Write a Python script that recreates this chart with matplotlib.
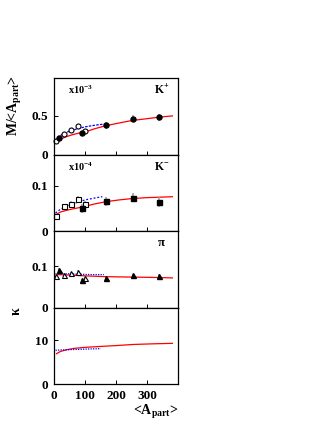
import matplotlib
matplotlib.use("Agg")
import matplotlib.pyplot as plt
import numpy as np

plt.rcParams["font.family"] = ["Liberation Serif", "DejaVu Serif"]
plt.rcParams["font.weight"] = "bold"
plt.rcParams["mathtext.fontset"] = "custom"
plt.rcParams["mathtext.rm"] = "Liberation Serif:bold"
plt.rcParams["mathtext.it"] = "Liberation Serif:italic:bold"
plt.rcParams["mathtext.bf"] = "Liberation Serif:bold"
plt.rcParams["mathtext.default"] = "rm"

# K+ (x10^-3)
kp_open_x = [6, 32, 54, 78, 101]
kp_open_y = [0.178, 0.267, 0.318, 0.368, 0.305]
kp_open_err = [0.02, 0.02, 0.02, 0.025, 0.02]
kp_fill_x = [16, 89, 167, 252, 337]
kp_fill_y = [0.207, 0.275, 0.377, 0.457, 0.479]
kp_fill_err = [0.02, 0.03, 0.045, 0.045, 0.045]
kp_red_x = [8, 15, 25, 40, 60, 80, 100, 130, 167, 210, 250, 300, 337, 380]
kp_red_y = [0.15, 0.18, 0.205, 0.23, 0.255, 0.275, 0.29, 0.33, 0.37, 0.405, 0.436, 0.46, 0.479, 0.495]
kp_blue_x = [3, 15, 30, 50, 75, 100, 130, 160]
kp_blue_y = [0.18, 0.23, 0.265, 0.30, 0.33, 0.355, 0.375, 0.39]

# K- (x10^-4)
km_open_x = [6, 32, 53, 78, 98]
km_open_y = [0.033, 0.055, 0.060, 0.071, 0.060]
km_open_err = [0.008, 0.006, 0.006, 0.007, 0.006]
km_fill_x = [89, 167, 252, 337]
km_fill_y = [0.050, 0.066, 0.074, 0.065]
km_fill_err = [0.009, 0.01, 0.01, 0.011]
km_red_x = [8, 20, 40, 60, 89, 130, 167, 210, 252, 300, 380]
km_red_y = [0.037, 0.042, 0.046, 0.049, 0.053, 0.060, 0.065, 0.069, 0.072, 0.074, 0.076]
km_blue_x = [5, 20, 40, 60, 80, 100, 130, 155]
km_blue_y = [0.040, 0.048, 0.055, 0.060, 0.065, 0.069, 0.073, 0.076]

# pi
pi_open_x = [6, 32, 54, 78, 101]
pi_open_y = [0.077, 0.079, 0.083, 0.087, 0.073]
pi_open_err = [0.006, 0.004, 0.004, 0.005, 0.004]
pi_fill_x = [16, 89, 167, 252, 337]
pi_fill_y = [0.090, 0.066, 0.071, 0.078, 0.077]
pi_fill_err = [0.006, 0.004, 0.004, 0.004, 0.004]
pi_red_x = [8, 50, 100, 167, 250, 337, 380]
pi_red_y = [0.080, 0.079, 0.077, 0.075, 0.074, 0.073, 0.072]
pi_blue_x = [5, 40, 80, 120, 160]
pi_blue_y = [0.082, 0.082, 0.081, 0.080, 0.080]

# kappa
ka_red_x = [8, 20, 40, 62, 100, 147, 200, 254, 320, 380]
ka_red_y = [6.9, 7.4, 7.8, 8.1, 8.35, 8.55, 8.75, 9.0, 9.15, 9.25]
ka_blue_x = [5, 40, 80, 120, 150]
ka_blue_y = [7.7, 7.8, 7.9, 8.0, 8.05]

W, H = 327, 423
fig = plt.figure(figsize=(W / 100, H / 100), dpi=100)

left, right = 54, 178
top, bottom = 78, 384.3
ph = (bottom - top) / 4


def panel(i):
    y0 = top + i * ph
    ax = fig.add_axes([left / W, 1 - (y0 + ph) / H, (right - left) / W, ph / H])
    ax.set_xlim(0, 398)
    ax.tick_params(direction="in", length=3, width=0.7, labelsize=9.5, pad=4)
    ax.set_xticks([0, 100, 200, 300])
    for s in ax.spines.values():
        s.set_linewidth(0.9)
        s.set_zorder(5)
    if i < 3:
        ax.tick_params(labelbottom=False)
    return ax


def data(ax, ox, oy, oe, fx, fy, fe, marker, rx, ry, bx, by, ls):
    ax.plot(rx, ry, color="red", lw=0.9, zorder=2)
    ax.plot(bx, by, color="blue", lw=0.9, ls=ls, zorder=2)
    ax.errorbar(ox, oy, yerr=oe, fmt=marker, ms=3.6, mfc="white", mec="black",
                mew=0.8, ecolor="#999999", elinewidth=1.1, zorder=3, clip_on=False)
    ax.errorbar(fx, fy, yerr=fe, fmt=marker, ms=3.6, mfc="black", mec="black",
                ecolor="#999999", elinewidth=1.1, zorder=3, clip_on=False)


ax1 = panel(0)
data(ax1, kp_open_x, kp_open_y, kp_open_err, kp_fill_x, kp_fill_y, kp_fill_err,
     "o", kp_red_x, kp_red_y, kp_blue_x, kp_blue_y, (0, (2, 1)))
ax1.set_ylim(0, 0.98)
ax1.set_yticks([0, 0.5])
ax1.set_yticklabels(["0", "0.5"])
ax1.text(0.11, 0.84, r"x10$^{-3}$", transform=ax1.transAxes, fontsize=7.5, va="center")
ax1.text(0.81, 0.84, r"K$^{+}$", transform=ax1.transAxes, fontsize=8.5, va="center")

ax2 = panel(1)
data(ax2, km_open_x, km_open_y, km_open_err, km_fill_x, km_fill_y, km_fill_err,
     "s", km_red_x, km_red_y, km_blue_x, km_blue_y, (0, (1.5, 1.5)))
ax2.set_ylim(0, 0.169)
ax2.set_yticks([0, 0.1])
ax2.set_yticklabels(["0", "0.1"])
ax2.text(0.11, 0.84, r"x10$^{-4}$", transform=ax2.transAxes, fontsize=7.5, va="center")
ax2.text(0.81, 0.84, r"K$^{-}$", transform=ax2.transAxes, fontsize=8.5, va="center")

ax3 = panel(2)
data(ax3, pi_open_x, pi_open_y, pi_open_err, pi_fill_x, pi_fill_y, pi_fill_err,
     "^", pi_red_x, pi_red_y, pi_blue_x, pi_blue_y, (0, (1, 1)))
ax3.set_ylim(0, 0.185)
ax3.set_yticks([0, 0.1])
ax3.set_yticklabels(["0", "0.1"])
ax3.text(0.83, 0.84, r"$\pi$", transform=ax3.transAxes, fontsize=9, va="center")

ax4 = panel(3)
ax4.plot(ka_red_x, ka_red_y, color="red", lw=0.9)
ax4.plot(ka_blue_x, ka_blue_y, color="blue", lw=0.9, ls=(0, (1, 1)))
ax4.set_ylim(0, 17.3)
ax4.set_yticks([0, 10])
ax4.set_yticklabels(["0", "10"])

fig.text(15 / W, 1 - 105 / H, r"M/<A$_{\mathrm{part}}$>", rotation=90,
         ha="center", va="center", fontsize=10)
fig.text(16 / W, 1 - 311 / H, r"$\kappa$", rotation=90,
         ha="center", va="center", fontsize=10)
fig.text(178 / W, 1 - 412 / H, r"<A$_{\mathrm{part}}$>", ha="right",
         va="center", fontsize=10)

fig.savefig("out.png", dpi=100)
